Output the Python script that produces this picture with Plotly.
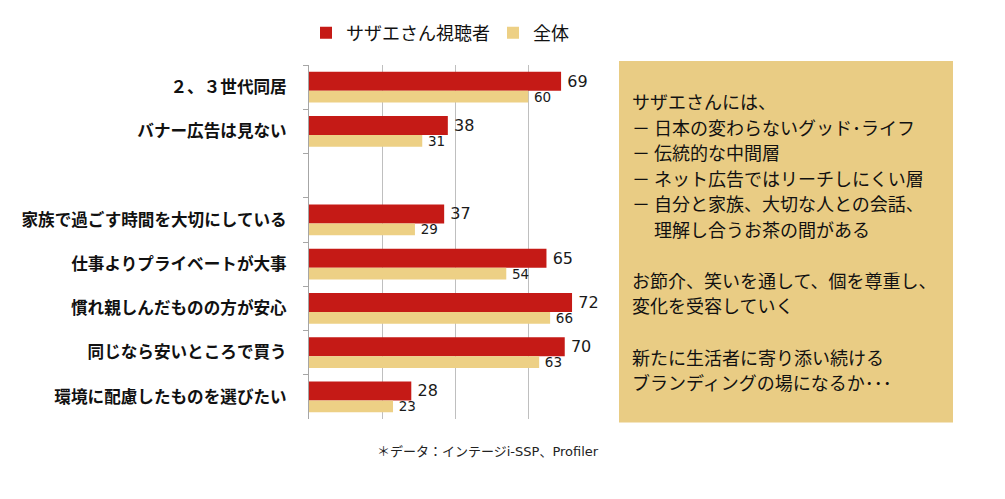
import plotly.graph_objects as go

# ---- data ----
categories = ["２、３世代同居", "バナー広告は見ない", " ",
              "家族で過ごす時間を大切にしている", "仕事よりプライベートが大事",
              "慣れ親しんだものの方が安心", "同じなら安いところで買う",
              "環境に配慮したものを選びたい"]
viewers = [69, 38, None, 37, 65, 72, 70, 28]
overall = [60, 31, None, 29, 54, 66, 63, 23]
series_names = ["サザエさん視聴者", "全体"]

box_lines = [
    "サザエさんには、",
    "－ 日本の変わらないグッド･ライフ",
    "－ 伝統的な中間層",
    "－ ネット広告ではリーチしにくい層",
    "－ 自分と家族、大切な人との会話、",
    "　 理解し合うお茶の間がある",
    "",
    "お節介、笑いを通して、個を尊重し、",
    "変化を受容していく",
    "",
    "新たに生活者に寄り添い続ける",
    "ブランディングの場になるか･･･",
]
footnote = "＊データ：インテージi-SSP、Profiler"

# ---- layout geometry (pixels) ----
W, H = 1005, 499
L, R, T, B = 309, 602, 65, 419.5

def px2x(px):
    return (px - L) / (R - L)

def py2y(py):
    return (B - py) / (B - T)

RED = "#C51A16"
TAN = "#EDD085"
BOX = "#E9CC84"
JP = "Noto Sans CJK JP"
NUM = "DejaVu Sans, Noto Sans CJK JP"

fig = go.Figure()
fig.add_trace(go.Bar(
    y=categories, x=viewers, orientation="h", name=series_names[0],
    marker=dict(color=RED, line=dict(width=0)),
    offset=-0.35, width=0.43,
    texttemplate="\u2009%{x}", textposition="outside", cliponaxis=False,
    constraintext="none",
    textfont=dict(family=NUM, size=16, color="#1a1a1a"),
))
fig.add_trace(go.Bar(
    y=categories, x=overall, orientation="h", name=series_names[1],
    marker=dict(color=TAN, line=dict(width=0)),
    offset=0.08, width=0.27,
    texttemplate="\u2009%{x}", textposition="outside", cliponaxis=False,
    constraintext="none",
    textfont=dict(family=NUM, size=13.5, color="#1a1a1a"),
))

annotations = []
y0 = 101
for k, line in enumerate(box_lines):
    if not line:
        continue
    annotations.append(dict(
        text=line, xref="paper", yref="paper",
        x=px2x(630), y=py2y(y0 + 25.6 * k), xanchor="left", yanchor="middle",
        showarrow=False, font=dict(family=JP, size=18, color="#111111"),
    ))
annotations.append(dict(
    text=footnote, xref="paper", yref="paper",
    x=px2x(488), y=py2y(452), xanchor="center", yanchor="middle",
    showarrow=False, font=dict(family=NUM, size=13, color="#222222"),
))

fig.update_layout(
    width=W, height=H, autosize=False,
    margin=dict(l=L, r=W - R, t=T, b=H - B, pad=0),
    paper_bgcolor="white", plot_bgcolor="white",
    barmode="overlay",
    showlegend=True,
    legend=dict(orientation="h", x=px2x(306), y=py2y(33), xanchor="left",
                yanchor="middle", font=dict(family=JP, size=18, color="#111111"),
                entrywidth=142, entrywidthmode="pixels",
                bgcolor="rgba(0,0,0,0)"),
    xaxis=dict(range=[0, 80.2], dtick=20, tick0=0, showticklabels=False,
               showgrid=True, gridcolor="#BFBFBF", gridwidth=1,
               zeroline=False, showline=False, ticks=""),
    yaxis=dict(categoryorder="array", categoryarray=categories,
               range=[7.5, -0.5], tickson="boundaries",
               ticks="outside", ticklen=5, tickcolor="#A6A6A6",
               showline=True, linecolor="#A6A6A6", linewidth=1,
               showgrid=False, zeroline=False, ticklabelstandoff=18,
               tickfont=dict(family=JP, size=16.6, color="#111111", weight="bold")),
    annotations=annotations,
    shapes=[dict(type="rect", xref="paper", yref="paper",
                 x0=px2x(619), x1=px2x(953), y0=py2y(423), y1=py2y(61),
                 fillcolor=BOX, line=dict(width=0), layer="below")],
)

fig.write_html("out.html")
